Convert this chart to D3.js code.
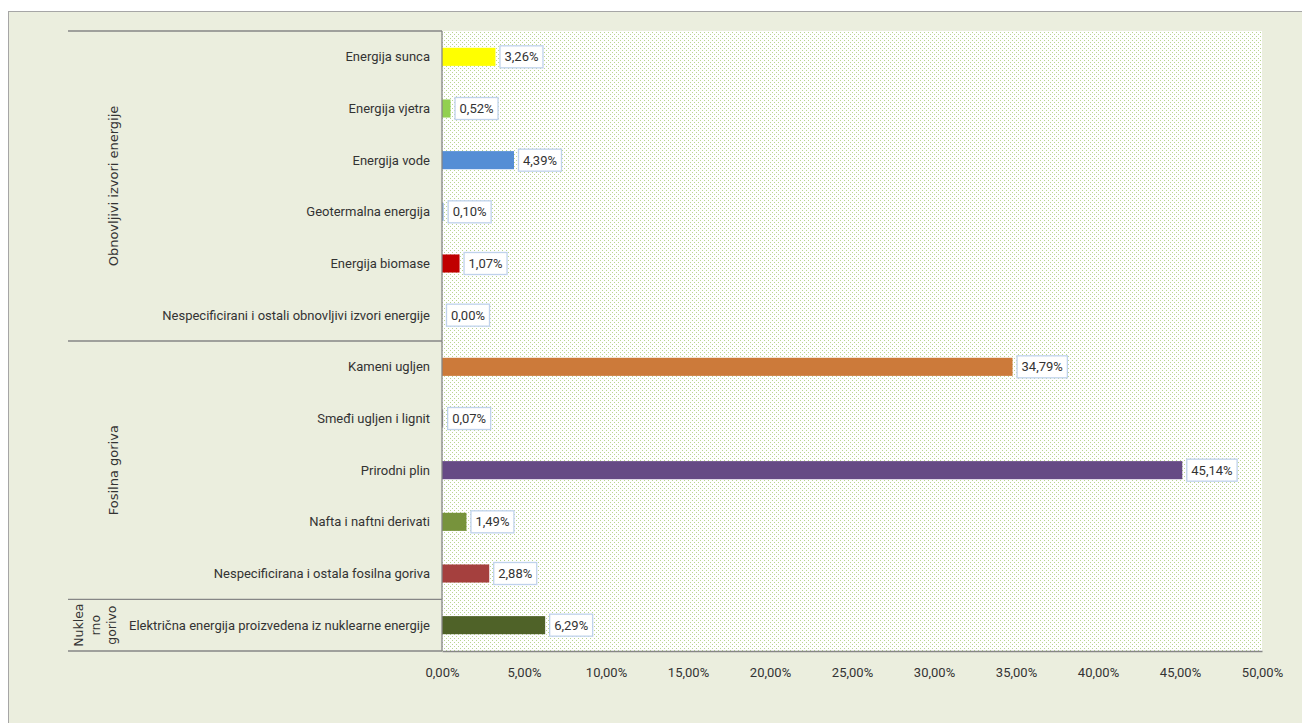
<!DOCTYPE html>
<html>
<head>
<meta charset="utf-8">
<script src="https://cdn.jsdelivr.net/npm/d3@7"></script>
<style>
  body { margin: 0; background: #fff; }
  svg text { font-family: Roboto, "Liberation Sans", Arial, sans-serif; fill: #333; }
</style>
</head>
<body>
<div id="chart"></div>
<script>
document.addEventListener("DOMContentLoaded", function() {

// categories and values (share of energy, %)
var categories = [
  "Energija sunca",
  "Energija vjetra",
  "Energija vode",
  "Geotermalna energija",
  "Energija biomase",
  "Nespecificirani i ostali obnovljivi izvori energije",
  "Kameni ugljen",
  "Smeđi ugljen i lignit",
  "Prirodni plin",
  "Nafta i naftni derivati",
  "Nespecificirana i ostala fosilna goriva",
  "Električna energija proizvedena iz nuklearne energije"
];
var values = [3.26, 0.52, 4.39, 0.10, 1.07, 0.00, 34.79, 0.07, 45.14, 1.49, 2.88, 6.29];
var barColors = ["#FFFF00", "#92D050", "#558ED5", "#8EB4E3", "#C00000", "#4F81BD",
                 "#CC7A3A", "#7F7F7F", "#664A85", "#77933C", "#A5403E", "#4F6228"];

// groups: name lines, number of categories
var groups = [
  {lines: ["Obnovljivi izvori energije"], count: 6},
  {lines: ["Fosilna goriva"], count: 5},
  {lines: ["Nuklea", "rno", "gorivo"], count: 1}
];
var xTicks = [0, 5, 10, 15, 20, 25, 30, 35, 40, 45, 50];

var W = 1302, H = 723;
var plot = {left: 442, right: 1262, top: 31, bottom: 651};
var groupLeft = 68;

var svg = d3.select("#chart").append("svg")
  .attr("width", W).attr("height", H);

// outer frame
svg.append("rect")
  .attr("x", 8.5).attr("y", 11.5)
  .attr("width", W).attr("height", H)
  .attr("fill", "#EBEEDE")
  .attr("stroke", "#A6A6A6");

// dotted plot background
var defs = svg.append("defs");
var pat = defs.append("pattern")
  .attr("id", "dots").attr("patternUnits", "userSpaceOnUse")
  .attr("width", 4).attr("height", 4);
pat.append("rect").attr("width", 4).attr("height", 4).attr("fill", "#fff");
pat.append("rect").attr("x", 0).attr("y", 0).attr("width", 1).attr("height", 1).attr("fill", "#B9D591");
pat.append("rect").attr("x", 2).attr("y", 2).attr("width", 1).attr("height", 1).attr("fill", "#B9D591");

svg.append("rect")
  .attr("x", plot.left).attr("y", plot.top)
  .attr("width", plot.right - plot.left)
  .attr("height", plot.bottom - plot.top)
  .attr("fill", "url(#dots)");

var x = d3.scaleLinear().domain([0, 50]).range([plot.left, plot.right]);
var y = d3.scaleBand().domain(categories).range([plot.top, plot.bottom]).paddingInner(0.65).paddingOuter(0.325);
var band = d3.scaleBand().domain(categories).range([plot.top, plot.bottom]);

// bars
svg.append("g").selectAll("rect")
  .data(categories)
  .enter().append("rect")
    .attr("x", x(0))
    .attr("y", function(d) { return y(d); })
    .attr("width", function(d, i) { return x(values[i]) - x(0); })
    .attr("height", y.bandwidth())
    .attr("fill", function(d, i) { return barColors[i]; });

// data labels in boxes
var fmt = function(v) { return v.toFixed(2).replace(".", ",") + "%"; };
var lab = svg.append("g").selectAll("g")
  .data(categories)
  .enter().append("g")
    .attr("transform", function(d, i) {
      return "translate(" + (x(values[i]) + 4) + "," + (y(d) + y.bandwidth() / 2) + ")";
    });
lab.append("text")
  .attr("x", 5).attr("dy", "0.35em")
  .style("font-size", "13px")
  .text(function(d, i) { return fmt(values[i]); });
lab.each(function() {
  var g = d3.select(this);
  var w = g.select("text").node().getComputedTextLength();
  g.insert("rect", "text")
    .attr("x", 0.5).attr("y", -11)
    .attr("width", w + 9).attr("height", 22)
    .attr("fill", "#fff")
    .attr("stroke", "#BFD2EC")
    .attr("stroke-width", 1.3);
});

// x axis
var xAxis = svg.append("g")
  .attr("transform", "translate(0," + plot.bottom + ")")
  .call(d3.axisBottom(x).tickValues(xTicks).tickSize(0).tickPadding(17)
    .tickFormat(function(d) { return d.toFixed(2).replace(".", ",") + "%"; }));
xAxis.select(".domain").attr("stroke", "#868686").attr("stroke-width", 1.3);
xAxis.selectAll("text").style("font-size", "13px").attr("fill", "#333");

// category labels
svg.append("g").selectAll("text")
  .data(categories)
  .enter().append("text")
    .attr("x", plot.left - 12)
    .attr("y", function(d) { return band(d) + band.bandwidth() / 2; })
    .attr("dy", "0.35em")
    .attr("text-anchor", "end")
    .style("font-size", "13px")
    .text(function(d) { return d; });

// vertical axis line
svg.append("line")
  .attr("x1", plot.left).attr("x2", plot.left)
  .attr("y1", plot.top).attr("y2", plot.bottom)
  .attr("stroke", "#868686").attr("stroke-width", 1.3);

// group separators and labels
var start = 0;
svg.append("line")
  .attr("x1", groupLeft).attr("x2", plot.left)
  .attr("y1", plot.top).attr("y2", plot.top)
  .attr("stroke", "#868686").attr("stroke-width", 1.3);
groups.forEach(function(g) {
  var y0 = band(categories[start]);
  var y1 = band(categories[start + g.count - 1]) + band.bandwidth();
  svg.append("line")
    .attr("x1", groupLeft).attr("x2", plot.left)
    .attr("y1", y1).attr("y2", y1)
    .attr("stroke", "#868686").attr("stroke-width", 1.3);
  var cy = (y0 + y1) / 2;
  var n = g.lines.length;
  g.lines.forEach(function(line, k) {
    var cx = (n === 1) ? 113 : 79 + k * 16.5;
    svg.append("text")
      .attr("transform", "translate(" + cx + "," + cy + ") rotate(-90)")
      .attr("text-anchor", "middle")
      .attr("dy", "0.35em")
      .style("font-family", "'DejaVu Sans', Arial, sans-serif")
      .style("font-size", n === 1 ? "13px" : "12.5px")
      .attr("fill", "#111")
      .text(line);
  });
  start += g.count;
});

});
</script>
</body>
</html>
